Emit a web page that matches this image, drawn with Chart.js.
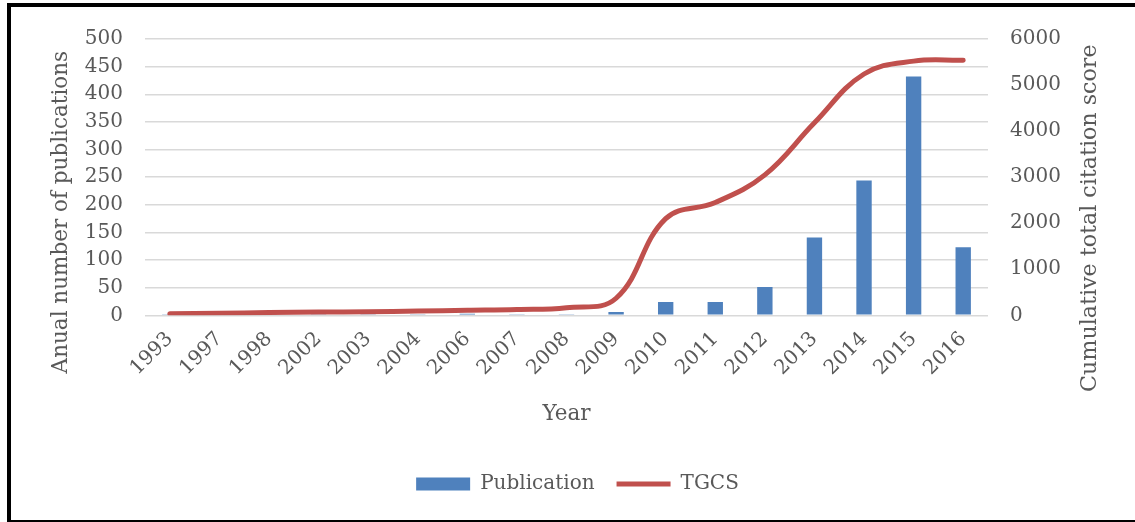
<!DOCTYPE html>
<html>
<head>
<meta charset="utf-8">
<script src="https://cdn.jsdelivr.net/npm/chart.js@4/dist/chart.umd.min.js"></script>
<style>
    html, body { margin: 0; padding: 0; background: #fff; overflow: hidden; }
    #wrap { position: absolute; left: 0; top: 0; width: 1135px; height: 522px; overflow: hidden; }
    #frame {
        position: absolute; left: 7px; top: 3px; width: 1300px; height: 513px;
        border-left: 4px solid #000; border-top: 4px solid #000; border-bottom: 2px solid #000;
    }
    canvas { position: absolute; left: 0; top: 0; }
</style>
</head>
<body>
<div id="wrap">
    <div id="frame"></div>
    <canvas id="chart" width="1135" height="522"></canvas>
</div>
<script>
// chart data
const years = ['1993', '1997', '1998', '2002', '2003', '2004', '2006', '2007', '2008',
    '2009', '2010', '2011', '2012', '2013', '2014', '2015', '2016'];
const publications = [1, 1, 1, 1, 1, 1, 3, 1, 2, 6, 24, 24, 51, 141, 244, 432, 123];
const tgcs = [35, 45, 60, 70, 78, 92, 108, 125, 165, 370, 2100, 2450, 3050, 4180, 5240, 5520, 5540];

const leftTitle = 'Anual number of publications';
const rightTitle = 'Cumulative total citation score';

const textColor = '#595959';
const fontFamily = '"DejaVu Serif", serif';

// vertical axis titles, centred a bit lower than the plot like the original
const sideTitles = {
    id: 'sideTitles',
    afterDraw(chart) {
        const { ctx, chartArea } = chart;
        const midY = (chartArea.top + chartArea.bottom) / 2;
        ctx.save();
        ctx.fillStyle = textColor;
        ctx.textAlign = 'center';
        ctx.textBaseline = 'middle';
        [[chartArea.left - 84, midY + 35, leftTitle, 21.5], [chartArea.right + 102, midY + 41, rightTitle, 22.2]].forEach(function (t) {
            ctx.save();
            ctx.font = t[3] + 'px ' + fontFamily;
            ctx.translate(t[0], t[1]);
            ctx.rotate(-Math.PI / 2);
            ctx.fillText(t[2], 0, 0);
            ctx.restore();
        });
        ctx.restore();
    }
};

Chart.defaults.font.family = fontFamily;
Chart.defaults.color = textColor;

const context = document.getElementById('chart').getContext('2d');
const chart = new Chart(context, {
    type: 'bar',
    data: {
        labels: years,
        datasets: [{
            label: 'Publication',
            data: publications,
            backgroundColor: '#4F81BD',
            borderWidth: 0,
            barPercentage: 0.31,
            categoryPercentage: 1,
            yAxisID: 'y',
            order: 1
        }, {
            type: 'line',
            label: 'TGCS',
            data: tgcs,
            borderColor: '#C0504D',
            backgroundColor: '#C0504D',
            borderWidth: 5,
            borderCapStyle: 'round',
            tension: 0.4,
            pointRadius: 0,
            fill: false,
            yAxisID: 'y1',
            order: 0
        }]
    },
    options: {
        responsive: false,
        animation: false,
        layout: { padding: { left: 40, right: 20, top: 39, bottom: 18 } },
        plugins: {
            tooltip: { enabled: false },
            legend: {
                position: 'bottom',
                labels: {
                    font: { size: 20 },
                    color: textColor,
                    padding: 22,
                    usePointStyle: true,
                    pointStyleWidth: 54,
                    boxHeight: 13,
                    sort: (a, b) => a.datasetIndex - b.datasetIndex,
                    generateLabels(chart) {
                        const items = Chart.defaults.plugins.legend.labels.generateLabels(chart);
                        items.forEach(function (item) {
                            item.pointStyle = item.datasetIndex === 0 ? 'rect' : 'line';
                            if (item.datasetIndex === 0) item.lineWidth = 0;
                        });
                        return items;
                    }
                }
            }
        },
        scales: {
            x: {
                grid: { display: false },
                border: { display: false },
                ticks: { font: { size: 20 }, color: textColor, autoSkip: false, minRotation: 45, maxRotation: 45, padding: 4 },
                title: { display: true, text: 'Year', font: { size: 21.5 }, color: textColor, padding: { top: 0, bottom: 25 } },
                afterFit(scale) { scale.height = 136.7; }
            },
            y: {
                position: 'left',
                min: 0,
                max: 500,
                ticks: { stepSize: 50, font: { size: 20 }, color: textColor, padding: 22 },
                grid: { color: '#D9D9D9', lineWidth: 1.5, drawTicks: false },
                border: { display: false },
                afterFit(scale) { scale.width = 105; }
            },
            y1: {
                position: 'right',
                min: 0,
                max: 6000,
                ticks: {
                    stepSize: 1000, font: { size: 20 }, color: textColor, padding: 22,
                    callback: (value) => String(value)
                },
                grid: { display: false, drawTicks: false },
                border: { display: false },
                afterFit(scale) { scale.width = 127; }
            }
        }
    },
    plugins: [sideTitles]
});
</script>
</body>
</html>
